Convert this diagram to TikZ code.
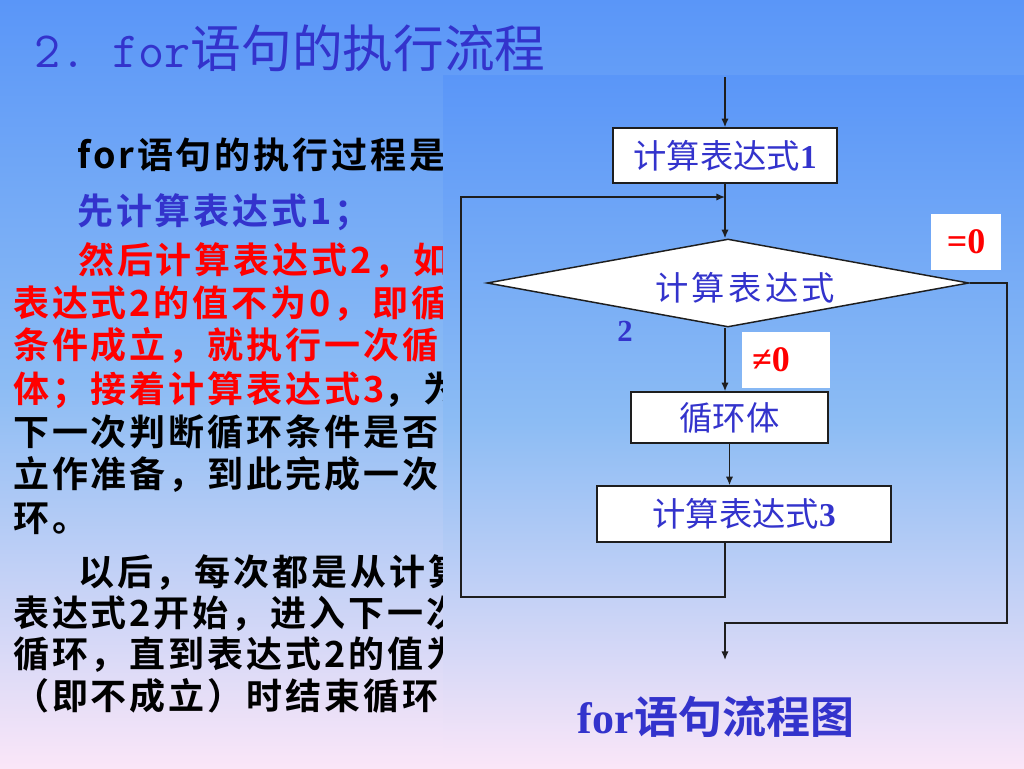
\documentclass[tikz,border=0pt]{standalone}
\usepackage{fontspec}
\setmainfont{Liberation Serif}
\newfontfamily\cjk{Noto Sans CJK SC}[BoldFont={Noto Sans CJK SC Bold}]
\usetikzlibrary{shapes.geometric,arrows.meta}
\newcommand{\PX}{0.75pt}
\newcommand{\LINEPT}{1.1pt}
\newcommand{\BOXPT}{1.1pt}
\newcommand{\TEXTFONT}{\cjk\bfseries\fontsize{27}{32}\selectfont\addfontfeatures{LetterSpace=8}}
\newcommand{\BOXFONT}{\fontsize{25}{30}\selectfont}
\newcommand{\TAGFONT}{\bfseries\fontsize{27}{30}\selectfont}
\definecolor{myblue}{RGB}{51,51,204}
\definecolor{myred}{RGB}{255,0,0}
\definecolor{myline}{RGB}{30,30,30}
\definecolor{bgtop}{RGB}{90,150,248}
\definecolor{bgmid}{RGB}{140,188,244}
\definecolor{bgbot}{RGB}{250,230,248}
\tikzset{
	textline/.style={anchor=base west, inner sep=0pt, font=\TEXTFONT},
	flowbox/.style={draw=myline, fill=white, line width=\BOXPT, inner sep=0pt, text=myblue, font=\BOXFONT},
	decision/.style={diamond, draw=myline, fill=white, line width=\BOXPT, inner sep=0pt},
	tagbox/.style={fill=white, inner sep=0pt, text=myred, font=\TAGFONT},
	flowarrow/.style={draw=myline, line width=\LINEPT, -{Latex[length=6.5pt,width=5.5pt]}}
}

\begin{document}
\begin{tikzpicture}[x=\PX,y=-\PX]
	
		%% background
		\shade[top color=bgtop, bottom color=bgbot, middle color=bgmid] (0,0) rectangle (1024,768);
		\useasboundingbox (0,0) rectangle (1024,768);
		
		\node[anchor=base west, inner sep=0pt, text=myblue, font=\fontsize{38}{42}\selectfont] (title) at (34,67) {\ttfamily 2.~for\cjk 语句的执行流程};
		
		%% left text
		\node[textline, text=black] (t1) at (77,168) {for语句的执行过程是};
		\node[textline, text=myblue] (t2) at (77,224) {先计算表达式1；};
		\node[textline, text=myred] (t3) at (78,273) {然后计算表达式2，如};
		\node[textline, text=myred] (t4) at (13,316) {表达式2的值不为0，即循};
		\node[textline, text=myred] (t5) at (13,358) {条件成立，就执行一次循};
		\node[textline, text=black] (t6) at (13,402) {{\color{myred}体；接着计算表达式3}，为};
		\node[textline, text=black] (t7) at (13,445) {下一次判断循环条件是否};
		\node[textline, text=black] (t8) at (13,487) {立作准备，到此完成一次};
		\node[textline, text=black] (t9) at (13,531) {环。};
		\node[textline, text=black] (t10) at (78,585) {以后，每次都是从计算};
		\node[textline, text=black] (t11) at (13,626) {表达式2开始，进入下一次};
		\node[textline, text=black] (t12) at (13,667) {循环，直到表达式2的值为};
		\node[textline, text=black] (t13) at (13,709) {（即不成立）时结束循环};
		
		%% panel
		\shade[top color=bgtop, bottom color=bgbot, middle color=bgmid] (443,75) rectangle (1024,768);
		
		\coordinate (in) at (725,77);
		\coordinate (merge) at (725,197);
		\coordinate (loopbl) at (461,597);
		\coordinate (exitr) at (1007,623);
		\coordinate (out) at (725,660);
		
		\node[flowbox, minimum width={224*\PX}, minimum height={55*\PX}] (e1) at (725,155.5) {{\cjk 计算表达式}\textbf{1}};
		\node[decision, minimum width={482*\PX}, minimum height={88*\PX}] (e2) at (728,283) {};
		\node[inner sep=0pt, text=myblue, font=\cjk\fontsize{25}{30}\selectfont\addfontfeatures{LetterSpace=10}] (e2txt) at (745,288) {计算表达式};
		\node[inner sep=0pt, text=myblue, font=\bfseries\fontsize{23}{26}\selectfont] (e2num) at (625,331) {2};
		\node[flowbox, minimum width={197*\PX}, minimum height={51*\PX}] (body) at (729.5,417.5) {\cjk 循环体};
		\node[flowbox, minimum width={294*\PX}, minimum height={56*\PX}] (e3) at (744,514) {{\cjk 计算表达式}\textbf{3}};
		
		\node[tagbox, minimum width={70*\PX}, minimum height={56*\PX}] (eqzero) at (966,242) {=0};
		\node[tagbox, text width={68*\PX}, inner xsep={10*\PX}, minimum height={56*\PX}, align=left] (nezero) at (786,360) {≠0};
		
		%% connectors
		\draw[flowarrow] (in) -- (e1.north);
		\draw[flowarrow] (e1.south) -- (e1.south |- e2.north);
		\draw[flowarrow] (e2.south -| e1) -- (body.north -| e1);
		\draw[flowarrow] (body.south) -- (body.south |- e3.north);
		\draw[flowarrow] (e3.south -| e1) |- (loopbl) |- (merge);
		\draw[flowarrow] (e2.east) -| (exitr) -| (out);
		
		\node[inner sep=0pt, text=myblue, font=\bfseries\fontsize{33}{36}\selectfont] (cap) at (716,717) {for\cjk 语句流程图};

	\end{tikzpicture}
\end{document}
